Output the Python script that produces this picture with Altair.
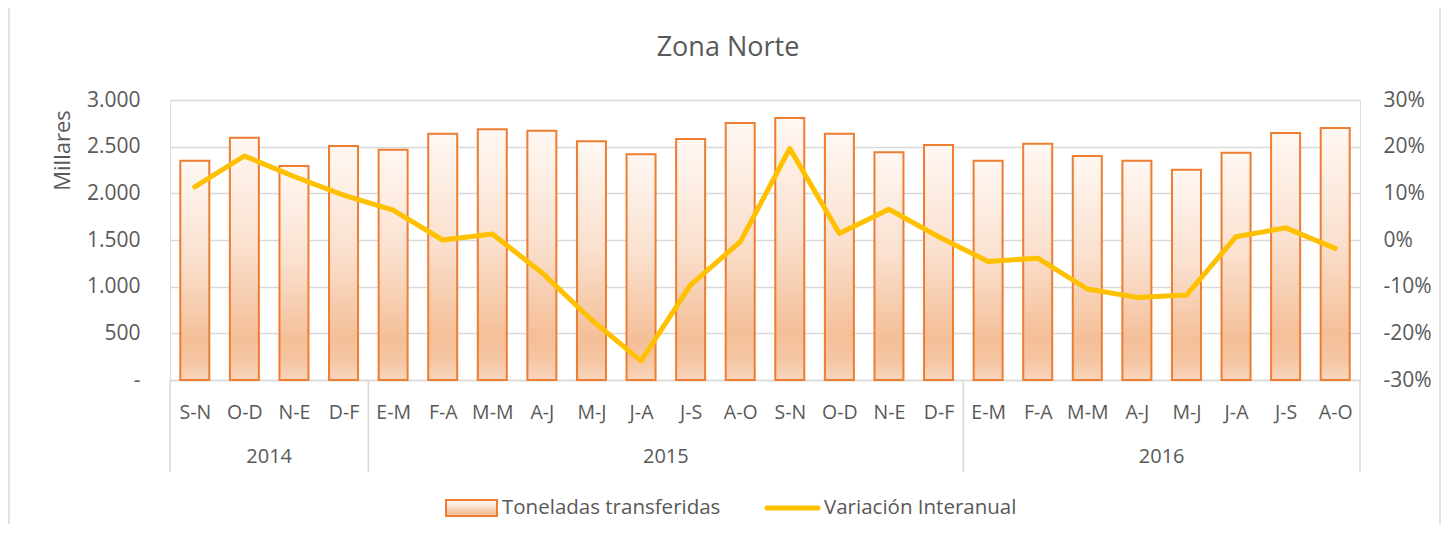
import altair as alt
import pandas as pd

# ---- data ----
categories = ["S-N", "O-D", "N-E", "D-F",
              "E-M", "F-A", "M-M", "A-J", "M-J", "J-A", "J-S", "A-O", "S-N", "O-D", "N-E", "D-F",
              "E-M", "F-A", "M-M", "A-J", "M-J", "J-A", "J-S", "A-O"]
years = ["2014"] * 4 + ["2015"] * 12 + ["2016"] * 8
toneladas = [2350, 2596, 2293, 2507,
             2468, 2639, 2686, 2671, 2557, 2418, 2582, 2754, 2807, 2639, 2439, 2518,
             2350, 2532, 2400, 2350, 2254, 2436, 2646, 2700]
variacion = [0.114, 0.180, 0.136, 0.096,
             0.064, 0.000, 0.013, -0.070, -0.171, -0.259, -0.096, -0.004, 0.196, 0.014, 0.066, 0.007,
             -0.046, -0.039, -0.105, -0.123, -0.118, 0.007, 0.026, -0.018]
year_labels = ["2014", "2015", "2016"]
year_start = [0, 4, 16]
year_end = [4, 16, 24]
legend_labels = ["Toneladas transferidas", "Variación Interanual"]
title_text = ["Zona Norte"]

TXT = "#595959"
GRID = "#D9D9D9"
FONT = "Open Sans"

W, H = 1190, 280

df = pd.DataFrame({
    "idx": list(range(len(categories))),
    "cat": categories,
    "year": years,
    "ton": toneladas,
    "var": variacion,
})
years_df = pd.DataFrame({"year": year_labels, "start": year_start, "end": year_end})
sep_df = pd.DataFrame({"pos": year_start + [year_end[-1]]})

label_expr = "[" + ",".join("'" + c + "'" for c in categories) + "][floor(datum.value)]"

xscale = alt.Scale(domain=[0, len(categories)], nice=False, zero=False)

x_axis = alt.Axis(
    values=[i + 0.5 for i in range(len(categories))],
    labelExpr=label_expr,
    labelFontSize=19.5, labelColor=TXT, labelFont=FONT,
    labelPadding=32, labelBaseline="middle",
    ticks=False, domain=True, domainColor=GRID, domainWidth=1.5,
    grid=False, title=None,
)

gradient = alt.Gradient(
    gradient="linear",
    x1=0, x2=0, y1=0, y2=1,
    stops=[
        alt.GradientStop(color="#FFF8F3", offset=0),
        alt.GradientStop(color="#FAE0CE", offset=0.45),
        alt.GradientStop(color="#F4BF98", offset=0.82),
        alt.GradientStop(color="#F5C6A3", offset=0.92),
        alt.GradientStop(color="#F8D6BE", offset=1),
    ],
)

base = alt.Chart(df)

bars = base.transform_calculate(
    x0="datum.idx + 0.2075", x1="datum.idx + 0.7925"
).mark_rect(fill=gradient, stroke="#ED7D31", strokeWidth=2).encode(
    x=alt.X("x0:Q", scale=xscale, axis=x_axis),
    x2="x1:Q",
    y=alt.Y("ton:Q",
            scale=alt.Scale(domain=[0, 3000], nice=False),
            axis=alt.Axis(
                values=[0, 500, 1000, 1500, 2000, 2500, 3000],
                labelExpr="datum.value == 0 ? '-\u00a0\u00a0\u00a0' : replace(format(datum.value, ','), ',', '.')",
                labelFontSize=21, labelColor=TXT, labelFont=FONT, labelPadding=30,
                ticks=False, domain=False,
                grid=True, gridColor=GRID, gridWidth=1.5,
                title="Millares", titleFontSize=22, titleColor=TXT, titleFont=FONT,
                titleFontWeight="normal", titleAngle=270, titleX=-108, titleY=50,
                titleAlign="center", titleBaseline="middle",
            )),
    y2=alt.datum(0),
)

line = base.transform_calculate(xc="datum.idx + 0.5").mark_line(
    color="#FFC000", strokeWidth=5, strokeJoin="round", strokeCap="round"
).encode(
    x=alt.X("xc:Q", scale=xscale, axis=x_axis),
    y=alt.Y("var:Q",
            scale=alt.Scale(domain=[-0.3, 0.3], nice=False),
            axis=alt.Axis(
                orient="right",
                values=[-0.3, -0.2, -0.1, 0, 0.1, 0.2, 0.3],
                labelExpr="round(datum.value * 100) + '%'",
                labelFontSize=21, labelColor=TXT, labelFont=FONT, labelPadding=23,
                ticks=False, domain=False, grid=False, title=None,
            )),
)

seps = alt.Chart(sep_df).mark_rule(color=GRID, strokeWidth=1.5).encode(
    x=alt.X("pos:Q", scale=xscale, axis=x_axis),
    y=alt.value(H),
    y2=alt.value(H + 92),
)

year_text = alt.Chart(years_df).transform_calculate(
    mid="(datum.start + datum.end) / 2"
).mark_text(fontSize=20, color=TXT, font=FONT, baseline="middle").encode(
    x=alt.X("mid:Q", scale=xscale, axis=x_axis),
    y=alt.value(H + 77),
    text="year:N",
)

# ---- chart title (centred on the whole chart area, as in the reference) ----
title_df = pd.DataFrame({"t": title_text})
title_mark = alt.Chart(title_df).mark_text(
    fontSize=27, color=TXT, font=FONT, baseline="middle", align="center"
).encode(x=alt.value(558), y=alt.value(-52), text="t:N")

# ---- legend (drawn manually below the plot) ----
leg_df = pd.DataFrame({"label": legend_labels})
leg_y = 408
leg_rect = alt.Chart(leg_df.iloc[[0]]).mark_rect(fill=gradient, stroke="#ED7D31", strokeWidth=2).encode(
    x=alt.value(276), x2=alt.value(327), y=alt.value(leg_y - 8), y2=alt.value(leg_y + 8)
)
leg_text1 = alt.Chart(leg_df.iloc[[0]]).mark_text(
    fontSize=20.5, color=TXT, font=FONT, align="left", baseline="middle"
).encode(x=alt.value(332), y=alt.value(leg_y), text="label:N")
leg_line = alt.Chart(leg_df.iloc[[1]]).mark_rule(
    color="#FFC000", strokeWidth=5, strokeCap="round"
).encode(x=alt.value(597), x2=alt.value(648), y=alt.value(leg_y))
leg_text2 = alt.Chart(leg_df.iloc[[1]]).mark_text(
    fontSize=20.5, color=TXT, font=FONT, align="left", baseline="middle"
).encode(x=alt.value(654), y=alt.value(leg_y), text="label:N")

# chart-area border (only the side edges fall inside the drawing)
border = alt.Chart(leg_df.iloc[[0]]).mark_rect(
    fill=None, stroke=GRID, strokeWidth=1.5
).encode(x=alt.value(-161), x2=alt.value(1270), y=alt.value(-100), y2=alt.value(440))

chart = alt.layer(
    border, bars, line, seps, year_text, title_mark,
    leg_rect, leg_text1, leg_line, leg_text2
).resolve_scale(
    y="independent"
).properties(
    width=W, height=H,
    autosize=alt.AutoSizeParams(type="none"),
    padding={"left": 162, "top": 92, "right": 82, "bottom": 144},
).configure_view(stroke=None).configure(font=FONT, background="white")

chart.save("out.html", embed_options={"renderer": "svg", "actions": False})
